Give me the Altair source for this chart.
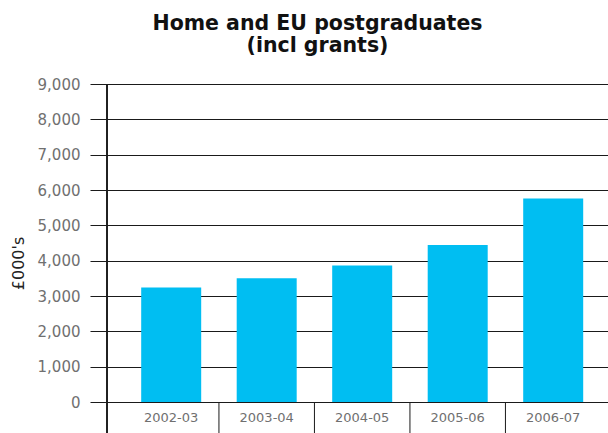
import altair as alt
import pandas as pd

years = ["2002-03", "2003-04", "2004-05", "2005-06", "2006-07"]
values = [3240, 3500, 3860, 4440, 5760]
y_ticks = [0, 1000, 2000, 3000, 4000, 5000, 6000, 7000, 8000, 9000]

df = pd.DataFrame({"year": years, "value": values})
sep = pd.DataFrame({"year": years[1:]})

W, H = 501, 318
LINE = "#1a1a1a"
LABEL_FONT = "DejaVu Sans"

xscale = alt.Scale(domain=years, paddingInner=0, paddingOuter=0.123, align=0.7)

bars = alt.Chart(df).mark_bar(size=60, color="#00BEF2").encode(
    x=alt.X("year:N", scale=xscale, sort=years,
            axis=alt.Axis(title=None, domain=False, ticks=False, labelAngle=0,
                          labelFont=LABEL_FONT, labelFontSize=13, labelColor="#707070",
                          labelPadding=9)),
    y=alt.Y("value:Q", scale=alt.Scale(domain=[0, 9000], nice=False),
            axis=alt.Axis(title="£000's", values=y_ticks, format=",d",
                          grid=True, gridColor=LINE, gridWidth=1,
                          tickSize=17, tickColor=LINE, tickWidth=1,
                          domain=False, labelPadding=10,
                          labelFont=LABEL_FONT, labelFontSize=15, labelColor="#707070",
                          titleFont=LABEL_FONT, titleFontSize=16, titleColor="#222",
                          titleFontWeight="normal", titleX=-89, titleY=179,
                          titleBaseline="middle", titleAlign="center")),
)

yline = alt.Chart(df).mark_rule(color=LINE, strokeWidth=1).encode(
    x=alt.value(0), y=alt.value(0), y2=alt.value(349)
)

seps = alt.Chart(sep).mark_rule(color=LINE, strokeWidth=1).encode(
    x=alt.X("year:N", bandPosition=0, sort=years),
    y=alt.value(H), y2=alt.value(349)
)

chart = alt.layer(bars, seps, yline).properties(
    width=W, height=H,
    title=alt.TitleParams(["Home and EU postgraduates", "(incl grants)"],
                          font="DejaVu Sans", fontSize=20.5, fontWeight="bold", color="#111",
                          anchor="middle", dx=-40, offset=21, lineHeight=22),
    autosize=alt.AutoSizeParams(type="none"),
    padding={"left": 107, "top": 84, "right": 0, "bottom": 31},
).configure_view(stroke=None).configure(background="white")

chart.save("out.html", embed_options={"renderer": "svg", "actions": False})
